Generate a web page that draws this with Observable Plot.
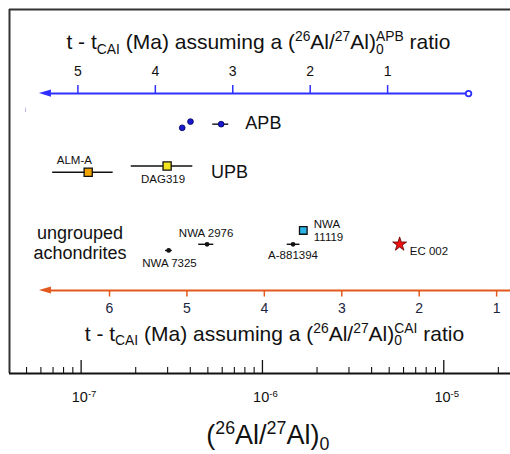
<!DOCTYPE html>
<html>
<head>
<meta charset="utf-8">
<script src="https://cdn.jsdelivr.net/npm/d3@7"></script>
<script src="https://cdn.jsdelivr.net/npm/@observablehq/plot@0.6"></script>
<style>
  html, body { margin: 0; padding: 0; background: #fff; }
  #chart svg { display: block; }
  #chart text { white-space: pre; }
</style>
</head>
<body>
<div id="chart"></div>
<script>
// ---------------- data ----------------
const FONT = "Liberation Sans, Arial, Helvetica, sans-serif";
const HALF_LIFE = 0.705;                       // Ma, 26Al
const LAMBDA = Math.LN2 / HALF_LIFE;
const R0_APB = 1.31e-5;                        // (26Al/27Al)0 of APB
const R0_CAI = 5.23e-5;                        // canonical CAI value

const apbTimeTicks = [1, 2, 3, 4, 5];
const caiTimeTicks = [1, 2, 3, 4, 5, 6];
const logMajorTicks = [1e-7, 1e-6, 1e-5];
const logMajorLabels = ["10^{-7}", "10^{-6}", "10^{-5}"];
const logMinorTicks = [5e-8, 6e-8, 7e-8, 8e-8, 9e-8,
  2e-7, 3e-7, 4e-7, 5e-7, 6e-7, 7e-7, 8e-7, 9e-7,
  2e-6, 3e-6, 4e-6, 5e-6, 6e-6, 7e-6, 8e-6, 9e-6, 2e-5];

// vertical position "row" is in chart units 0 (bottom axis) .. 100 (top frame)
const apbPoints = [
  {r: 3.61e-7, lo: null, hi: null, row: 67.5},
  {r: 4.01e-7, lo: null, hi: null, row: 69.2},
  {r: 5.92e-7, lo: 5.32e-7, hi: 6.52e-7, row: 68.5}
];
const upbPoints = [
  {name: "ALM-A",  r: 1.094e-7, lo: 6.97e-8, hi: 1.502e-7, row: 55.3, color: "#f4a400", lx: 9.18e-8, lrow: 58.5},
  {name: "DAG319", r: 2.98e-7,  lo: 1.89e-7, hi: 4.13e-7,  row: 57.0, color: "#f2e41e", lx: 2.83e-7, lrow: 53.4}
];
const ungroupedDots = [
  {name: "NWA 7325", r: 3.04e-7,  lo: 2.92e-7, hi: 3.18e-7, row: 33.8, lx: 3.07e-7,  lrow: 30.3},
  {name: "NWA 2976", r: 4.95e-7,  lo: 4.45e-7, hi: 5.39e-7, row: 35.5, lx: 4.89e-7,  lrow: 38.5},
  {name: "A-881394", r: 1.475e-6, lo: 1.37e-6, hi: 1.61e-6, row: 35.5, lx: 1.475e-6, lrow: 32.4}
];
const nwa11119 = [{name: "NWA\n11119", r: 1.68e-6, row: 39.3, lx: 1.92e-6, lrow: 39.3}];
const ec002 = [{name: "EC 002", r: 5.71e-6, row: 35.5, lx: 6.49e-6, lrow: 33.6}];

const groupLabelsStart = [
  {text: "APB", x: 8.05e-7, row: 68.8},
  {text: "UPB", x: 5.21e-7, row: 55.3}
];
const groupLabelsMiddle = [
  {text: "ungrouped\nachondrites", x: 9.85e-8, row: 35.9}
];
const axisTitles = [
  {text: "t - t_{CAI} (Ma) assuming a (^{26}Al/^{27}Al)_{0}^{APB} ratio", x: 9.5e-7, row: 90.9},
  {text: "t - t_{CAI} (Ma) assuming a (^{26}Al/^{27}Al)_{0}^{CAI} ratio", x: 1.164e-6, row: 10.9}
];
const xTitle = [{text: "(^{26}Al/^{27}Al)_{0}", x: 1.07e-6, row: -17.0}];

// axis line rows
const APB_ROW = 76.9, CAI_ROW = 22.8;
const ARROW_TIP = 5.89e-8, APB_END = 1.37e-5, CAI_END = 1e-4;

// ---------------- helpers ----------------
const X_DOMAIN = [Math.pow(10, -7.395), Math.pow(10, -4.632)];
const PX_PER_DECADE = 501 / (Math.log10(X_DOMAIN[1]) - Math.log10(X_DOMAIN[0]));
const ROW_PER_PX = 100 / 364;
const ratioAt = (R0, t) => R0 * Math.exp(-LAMBDA * t);
const shiftPx = (r, px) => r * Math.pow(10, px / PX_PER_DECADE);

function arrowHead(row, tip) {
  const base = shiftPx(tip, 12), h = 3.6 * ROW_PER_PX;
  return [{x: tip, y1: row, y2: row}, {x: base, y1: row - h, y2: row + h}];
}

const apbTickData = apbTimeTicks.map(t => ({t, r: ratioAt(R0_APB, t)}));
const caiTickData = caiTimeTicks.map(t => ({t, r: ratioAt(R0_CAI, t)}));
const majorData = logMajorTicks.map((r, i) => ({r, label: logMajorLabels[i]}));

const BLUE = "#2f2fff", ORANGE = "#e3581c";
const SMALL = 11.5;

const plot = Plot.plot({
  width: 510,
  height: 454,
  marginLeft: 9,
  marginRight: 0,
  marginTop: 9,
  marginBottom: 81,
  style: {fontFamily: FONT, background: "#fff", overflow: "visible"},
  x: {type: "log", domain: X_DOMAIN, axis: null},
  y: {domain: [0, 100], axis: null},
  marks: [
    // frame (left, top) and bottom axis line
    Plot.ruleX([X_DOMAIN[0]], {y1: 0, y2: 100, stroke: "#333", strokeWidth: 2}),
    Plot.ruleY([100], {x1: X_DOMAIN[0], x2: X_DOMAIN[1], stroke: "#333", strokeWidth: 2}),
    Plot.ruleY([0], {x1: X_DOMAIN[0], x2: X_DOMAIN[1], stroke: "#111", strokeWidth: 2}),
    // log ticks (inward)
    Plot.ruleX(logMajorTicks, {x: d => d, y1: 0, y2: 13 * ROW_PER_PX, stroke: "#111", strokeWidth: 1.3}),
    Plot.ruleX(logMinorTicks, {x: d => d, y1: 0, y2: 6 * ROW_PER_PX, stroke: "#111", strokeWidth: 1.1}),
    Plot.text(majorData, {x: "r", y: -6.6, text: "label", fontSize: 14.5, fill: "#111", dx: 3}),
    Plot.text(xTitle, {x: "x", y: "row", text: "text", fontSize: 27, fill: "#111"}),

    // stray mark
    Plot.ruleX([4.94e-8], {x: d => d, y1: 71.7, y2: 72.9, stroke: "#b8b8f0", strokeWidth: 1}),

    // APB time axis
    Plot.ruleY([APB_ROW], {x1: shiftPx(ARROW_TIP, 8), x2: APB_END, stroke: BLUE, strokeWidth: 2}),
    Plot.areaY(arrowHead(APB_ROW, ARROW_TIP), {x: "x", y1: "y1", y2: "y2", fill: BLUE}),
    Plot.dot([APB_END], {x: d => d, y: APB_ROW, r: 2.8, stroke: BLUE, fill: "#fff", strokeWidth: 1.8}),
    Plot.ruleX(apbTickData, {x: "r", y1: APB_ROW, y2: APB_ROW + 8 * ROW_PER_PX, stroke: BLUE, strokeWidth: 1.5}),
    Plot.text(apbTickData, {x: "r", y: 83.0, text: d => String(d.t), fontSize: 14, fill: "#111"}),

    // CAI time axis
    Plot.ruleY([CAI_ROW], {x1: shiftPx(ARROW_TIP, 8), x2: CAI_END, stroke: ORANGE, strokeWidth: 2}),
    Plot.areaY(arrowHead(CAI_ROW, ARROW_TIP), {x: "x", y1: "y1", y2: "y2", fill: ORANGE}),
    Plot.ruleX(caiTickData, {x: "r", y1: CAI_ROW, y2: CAI_ROW - 6.5 * ROW_PER_PX, stroke: ORANGE, strokeWidth: 1.5}),
    Plot.text(caiTickData, {x: "r", y: 17.9, text: d => String(d.t), fontSize: 14, fill: "#1b2540"}),

    // axis titles
    Plot.text(axisTitles, {x: "x", y: "row", text: "text", fontSize: 21, fill: "#111"}),

    // group labels
    Plot.text(groupLabelsStart, {x: "x", y: "row", text: "text", textAnchor: "start", fontSize: 18, fill: "#111"}),
    Plot.text(groupLabelsMiddle, {x: "x", y: "row", text: "text", textAnchor: "middle", fontSize: 18, fill: "#111", lineHeight: 1.1}),

    // APB
    Plot.ruleY(apbPoints.filter(d => d.lo), {x1: "lo", x2: "hi", y: "row", stroke: "#111", strokeWidth: 1.4}),
    Plot.dot(apbPoints, {x: "r", y: "row", r: 2.9, fill: "#1818d0", stroke: "#000050", strokeWidth: 0.8}),

    // UPB
    Plot.ruleY(upbPoints, {x1: "lo", x2: "hi", y: "row", stroke: "#111", strokeWidth: 1.4}),
    Plot.dot(upbPoints, {x: "r", y: "row", symbol: "square", r: 4.6, fill: "color", stroke: "#111", strokeWidth: 1.3}),
    Plot.text(upbPoints, {x: "lx", y: "lrow", text: "name", fontSize: SMALL, fill: "#111"}),

    // ungrouped achondrites
    Plot.ruleY(ungroupedDots, {x1: "lo", x2: "hi", y: "row", stroke: "#111", strokeWidth: 1.4}),
    Plot.dot(ungroupedDots, {x: "r", y: "row", r: 2.4, fill: "#111"}),
    Plot.text(ungroupedDots, {x: "lx", y: "lrow", text: "name", fontSize: SMALL, fill: "#111"}),
    Plot.dot(nwa11119, {x: "r", y: "row", symbol: "square", r: 4.3, fill: "#2ab4e8", stroke: "#111", strokeWidth: 1.3}),
    Plot.text(nwa11119, {x: "lx", y: "lrow", text: "name", fontSize: SMALL, textAnchor: "start", lineHeight: 1.1, fill: "#111"}),
    Plot.dot(ec002, {x: "r", y: "row", symbol: "star", r: 4.4, fill: "#f01010", stroke: "#5a0000", strokeWidth: 0.8}),
    Plot.text(ec002, {x: "lx", y: "lrow", text: "name", fontSize: SMALL, textAnchor: "start", fill: "#111"})
  ]
});

document.getElementById("chart").appendChild(plot);

// ---------------- rich text (sub/superscripts) ----------------
const ctx = document.createElement("canvas").getContext("2d");
function measure(str, size) { ctx.font = `${size}px ${FONT}`; return ctx.measureText(str).width; }
const SVGNS = "http://www.w3.org/2000/svg";
plot.querySelectorAll("text").forEach(el => {
  const s = el.textContent;
  if (!/[\^_]\{/.test(s)) return;
  let fs = NaN;
  for (let n = el; n && n !== plot; n = n.parentNode) {
    if (n.getAttribute && n.getAttribute("font-size")) { fs = parseFloat(n.getAttribute("font-size")); break; }
  }
  if (!isFinite(fs)) fs = parseFloat(getComputedStyle(el).fontSize);
  const small = fs * 0.66;
  const re = /([\^_])\{([^}]*)\}/g;
  const tokens = []; let last = 0, m;
  while ((m = re.exec(s))) {
    if (m.index > last) tokens.push({t: "n", s: s.slice(last, m.index)});
    tokens.push({t: m[1] === "^" ? "sup" : "sub", s: m[2]});
    last = re.lastIndex;
  }
  if (last < s.length) tokens.push({t: "n", s: s.slice(last)});
  while (el.firstChild) el.removeChild(el.firstChild);
  el.setAttribute("font-size", fs);
  let offset = 0;
  tokens.forEach((tk, i) => {
    const ts = document.createElementNS(SVGNS, "tspan");
    const target = tk.t === "sup" ? -fs * 0.38 : tk.t === "sub" ? fs * 0.22 : 0;
    ts.setAttribute("dy", (target - offset).toFixed(2));
    offset = target;
    ts.setAttribute("font-size", (tk.t === "n" ? fs : small).toFixed(2));
    if (tk.t === "sup" && i > 0 && tokens[i - 1].t === "sub") {
      ts.setAttribute("dx", (-measure(tokens[i - 1].s, small)).toFixed(2));
    }
    ts.textContent = tk.s;
    el.appendChild(ts);
  });
});
</script>
</body>
</html>
